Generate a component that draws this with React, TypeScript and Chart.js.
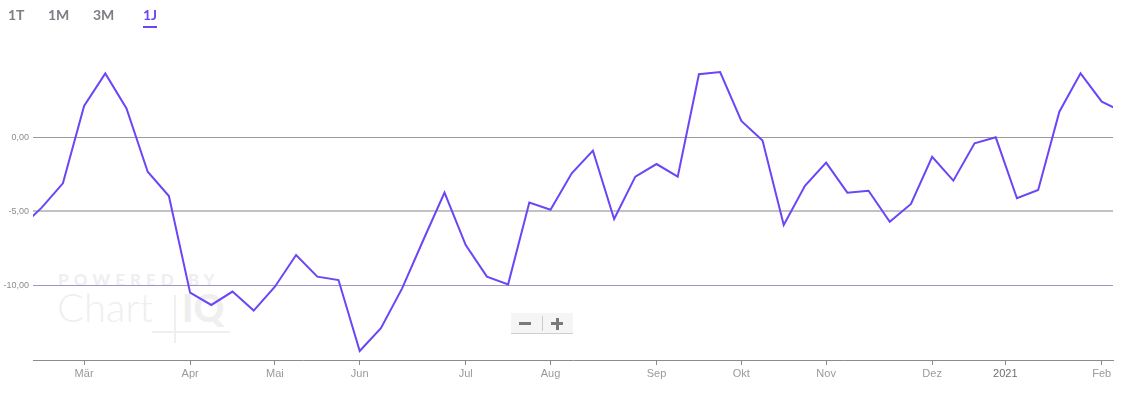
import React, { useEffect, useRef } from "react";
import { Chart, registerables } from "chart.js";

Chart.register(...registerables);

// Weekly performance values (%), first and last points lie just outside the visible window
const perfValues: number[] = [
  -6.1, -4.74, -3.1, 2.11, 4.31, 1.95, -2.32, -3.96, -10.47, -11.3,
  -10.4, -11.68, -10.07, -7.93, -9.39, -9.62, -14.4, -12.87, -10.18, -6.92,
  -3.73, -7.26, -9.39, -9.91, -4.39, -4.88, -2.43, -0.9, -5.51, -2.65,
  -1.8, -2.65, 4.25, 4.4, 1.1, -0.22, -5.91, -3.27, -1.71, -3.73,
  -3.6, -5.69, -4.49, -1.31, -2.92, -0.4, 0.0, -4.11, -3.55, 1.73,
  4.31, 2.4, 1.71,
];
const firstIndex = -1;

const monthLabels: string[] = ["Mär", "Apr", "Mai", "Jun", "Jul", "Aug", "Sep", "Okt", "Nov", "Dez", "2021", "Feb"];
const monthTickPositions: number[] = [2, 7, 11, 15, 20, 24, 29, 33, 37, 42, 45.45, 50];

const yTickValues: number[] = [-10, -5, 0];
const rangeButtons: string[] = ["1T", "1M", "3M", "1J"];
const activeRange = "1J";

export default function App() {
  const canvasRef = useRef<HTMLCanvasElement | null>(null);

  useEffect(() => {
    document.body.style.margin = "0";
    const canvas = canvasRef.current;
    if (!canvas) return;
    const points = perfValues.map((v, i) => ({ x: firstIndex + i, y: v }));
    const chart = new Chart(canvas, {
      type: "line",
      data: {
        datasets: [
          {
            data: points,
            borderColor: "#6b45f6",
            borderWidth: 2,
            pointRadius: 0,
            tension: 0,
            fill: false,
          },
        ],
      },
      options: {
        responsive: false,
        animation: false,
        events: [],
        layout: { padding: { top: 40, right: 29, left: 0, bottom: 0 } },
        plugins: { legend: { display: false }, tooltip: { enabled: false } },
        scales: {
          x: {
            type: "linear",
            min: -0.41,
            max: 50.53,
            afterBuildTicks: (scale: any) => {
              scale.ticks = monthTickPositions.map((v) => ({ value: v }));
            },
            afterFit: (scale: any) => {
              scale.height = 38;
            },
            border: { display: true, color: "#8c8c8c", width: 1 },
            grid: {
              drawOnChartArea: false,
              drawTicks: true,
              tickLength: 5,
              color: "#8c8c8c",
            },
            ticks: {
              autoSkip: false,
              maxRotation: 0,
              padding: 2,
              font: { family: "'Liberation Sans', Arial, sans-serif", size: 11 },
              color: (ctx: any) => (ctx.index === 10 ? "#6e6e6e" : "#9a9a9a"),
              callback: (_v: any, i: number) => monthLabels[i],
            },
          },
          y: {
            type: "linear",
            min: -15.01,
            max: 6.56,
            afterBuildTicks: (scale: any) => {
              scale.ticks = yTickValues.map((v) => ({ value: v }));
            },
            afterFit: (scale: any) => {
              scale.width = 33;
            },
            border: { display: false },
            grid: {
              drawTicks: false,
              color: (ctx: any) => {
                const v = ctx.tick ? ctx.tick.value : 0;
                if (v === 0) return "#9a9a9a";
                if (v === -5) return "#c2c2c2";
                return "#9c96c6";
              },
              lineWidth: (ctx: any) => {
                const v = ctx.tick ? ctx.tick.value : 0;
                return v === -5 ? 2 : 1;
              },
            },
            ticks: {
              padding: 4,
              font: { family: "'Liberation Sans', Arial, sans-serif", size: 9 },
              color: "#8c8c8c",
              callback: (v: any) => Number(v).toFixed(2).replace(".", ","),
            },
          },
        },
      },
    } as any);
    return () => chart.destroy();
  }, []);

  const wm = "#efefef";
  return (
    <div style={{ position: "absolute", left: 0, top: 0, width: 1142, height: 398, background: "#fff", overflow: "hidden" }}>
      {/* Watermark */}
      <div style={{ position: "absolute", left: 58, top: 271, color: wm, fontFamily: "Lato, 'Noto Sans', sans-serif", fontWeight: 900, fontSize: 17, letterSpacing: 5, lineHeight: "18px", whiteSpace: "nowrap" }}>
        POWERED BY
      </div>
      <div style={{ position: "absolute", left: 57, top: 285, color: wm, fontFamily: "Lato, 'Noto Sans', sans-serif", fontWeight: 300, fontSize: 40, lineHeight: "44px", whiteSpace: "nowrap" }}>
        Chart
      </div>
      <div style={{ position: "absolute", left: 174, top: 295, width: 2, height: 48, background: wm }} />
      <div style={{ position: "absolute", left: 152, top: 331, width: 78, height: 2, background: wm }} />
      <div style={{ position: "absolute", left: 182, top: 285, color: wm, fontFamily: "Lato, 'Noto Sans', sans-serif", fontWeight: 900, fontSize: 38, lineHeight: "44px" }}>
        IQ
      </div>
      <canvas ref={canvasRef} width={1142} height={398} style={{ position: "absolute", left: 0, top: 0, width: 1142, height: 398 }} />
      {/* Range buttons */}
      {rangeButtons.map((b, i) => {
        const lefts = [8, 48, 93, 143];
        const active = b === activeRange;
        return (
          <div key={b} style={{ position: "absolute", left: lefts[i], top: 6, fontFamily: "Lato, 'Noto Sans', sans-serif", fontWeight: 700, fontSize: 14, lineHeight: "18px", color: active ? "#6b45f6" : "#7d7d85" }}>
            {b}
            {active && <div style={{ position: "absolute", left: 0, right: 0, top: 20, height: 2, background: "#6b45f6" }} />}
          </div>
        );
      })}
      {/* Zoom controls */}
      <div style={{ position: "absolute", left: 511, top: 313, width: 62, height: 20, background: "#f5f5f5", borderBottom: "1px solid #cfcfcf" }}>
        <div style={{ position: "absolute", left: 8, top: 9, width: 12, height: 3, background: "#7a7a7a" }} />
        <div style={{ position: "absolute", left: 31, top: 3, width: 1, height: 15, background: "#cccccc" }} />
        <div style={{ position: "absolute", left: 40, top: 9, width: 12, height: 3, background: "#7a7a7a" }} />
        <div style={{ position: "absolute", left: 44.5, top: 4.5, width: 3, height: 12, background: "#7a7a7a" }} />
      </div>
    </div>
  );
}
